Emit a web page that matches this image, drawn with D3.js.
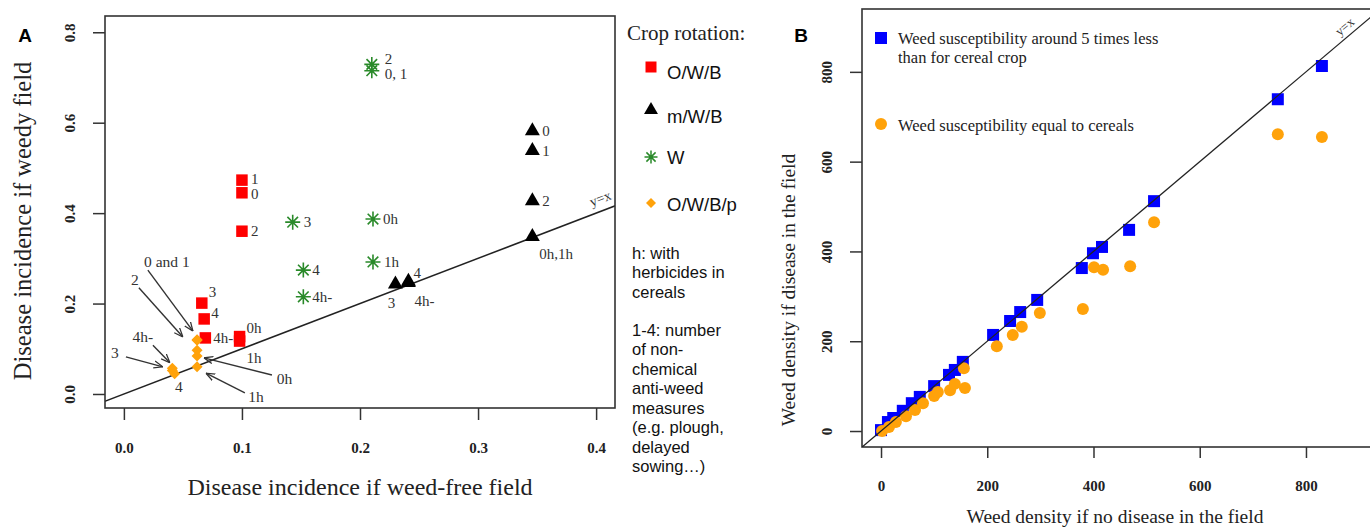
<!DOCTYPE html>
<html><head><meta charset="utf-8">
<script src="https://cdn.jsdelivr.net/npm/d3@7"></script>
<style>body{margin:0;background:#fff}svg{display:block}</style>
</head><body><svg id="c" width="1370" height="528"></svg>
<script>
// ================= DATA =================
// Panel A
const xTicksA = [0, 0.1, 0.2, 0.3, 0.4];
const yTicksA = [0, 0.2, 0.4, 0.6, 0.8];
const seriesOWB = [
  {x:0.100, y:0.473, label:"1"},
  {x:0.100, y:0.445, label:"0"},
  {x:0.100, y:0.360, label:"2"},
  {x:0.066, y:0.201, label:"3"},
  {x:0.068, y:0.166, label:"4"},
  {x:0.069, y:0.124, label:"4h-"},
  {x:0.098, y:0.127, label:"0h"},
  {x:0.098, y:0.117, label:"1h"}
];
const seriesMWB = [
  {x:0.346, y:0.582, label:"0"},
  {x:0.346, y:0.538, label:"1"},
  {x:0.346, y:0.427, label:"2"},
  {x:0.346, y:0.348, label:"0h,1h"},
  {x:0.230, y:0.243, label:"3"},
  {x:0.241, y:0.249, label:"4"},
  {x:0.241, y:0.246, label:"4h-"}
];
const seriesW = [
  {x:0.210, y:0.729, label:"2"},
  {x:0.210, y:0.715, label:"0, 1"},
  {x:0.143, y:0.380, label:"3"},
  {x:0.211, y:0.387, label:"0h"},
  {x:0.211, y:0.292, label:"1h"},
  {x:0.152, y:0.274, label:"4"},
  {x:0.152, y:0.215, label:"4h-"}
];
const seriesOWBp = [
  {x:0.062, y:0.120, label:"0"},
  {x:0.062, y:0.119, label:"1"},
  {x:0.062, y:0.097, label:"2"},
  {x:0.062, y:0.084, label:"0h"},
  {x:0.062, y:0.060, label:"1h"},
  {x:0.041, y:0.057, label:"4h-"},
  {x:0.041, y:0.052, label:"3"},
  {x:0.043, y:0.045, label:"4"}
];
// arrow annotations for the O/W/B/p cluster (data units)
const arrowNotes = [
  {text:"0 and 1", tx:0.0364, ty:0.292, x1:0.0203, y1:0.274, x2:0.0585, y2:0.139},
  {text:"2",       tx:0.0093, ty:0.252, x1:0.0127, y1:0.235, x2:0.050,  y2:0.126},
  {text:"4h-",     tx:0.016,  ty:0.126, x1:0.0246, y1:0.108, x2:0.039,  y2:0.069},
  {text:"3",       tx:-0.0076,ty:0.091, x1:0.0017, y1:0.082, x2:0.033,  y2:0.060},
  {text:"4",       tx:0.0466, ty:0.0155},
  {text:"0h",      tx:0.136,  ty:0.035, x1:0.1254, y1:0.042, x2:0.0678, y2:0.080},
  {text:"1h",      tx:0.112,  ty:-0.0066,x1:0.1025,y1:0.0022,x2:0.0695, y2:0.046}
];
const legendA = ["O/W/B", "m/W/B", "W", "O/W/B/p"];
const notesA = ["h: with", "herbicides in", "cereals", "", "1-4: number", "of non-", "chemical", "anti-weed", "measures", "(e.g. plough,", "delayed", "sowing\u2026)"];

// Panel B
const xTicksB = [0, 200, 400, 600, 800];
const yTicksB = [0, 200, 400, 600, 800];
const blueX = [0, 13, 23, 41, 58, 73, 100, 128, 139, 154, 211, 243, 262, 294, 378, 399, 416, 467, 514, 747, 830];
const blueY = [2, 20, 29, 45, 62, 76, 100, 125, 136, 154, 214, 245, 265, 292, 363, 396, 410, 448, 512, 739, 813];
const orangeX = [2, 15, 28, 47, 64, 79, 100, 107, 130, 139, 156, 158, 218, 248, 265, 299, 380, 401, 418, 469, 514, 747, 830];
const orangeY = [0, 9, 20, 33, 47, 62, 78, 87, 91, 105, 140, 96, 189, 214, 232, 263, 272, 365, 359, 367, 465, 661, 655];
const legendB = [["Weed susceptibility around 5 times less", "than for cereal crop"], ["Weed susceptibility equal to cereals"]];

// ================= STYLE / LAYOUT =================
const SERIF = "'Liberation Serif','Times New Roman',serif";
const SANS = "'Liberation Sans',Arial,sans-serif";
const C_RED = "#ff0000", C_BLACK = "#000", C_GREEN = "#2a8a2a", C_ORANGE = "#ffa20a", C_BLUE = "#0000ff";
const TXT = "#333";

// label offsets [dx, dy, anchor] per series/label
const offOWB = {"1":[9,-1],"0":[9,1],"2":[9,0],"3":[7,-11],"4":[7,-6],"4h-":[8,0],"0h":[7,-9],"1h":[7,17]};
const offMWB = {"0":[10,0],"1":[10,0],"2":[10,0],"0h,1h":[7,17],"3":[-4,19,"middle"],"4":[5,-9],"4h-":[6,18]};
const offW = {"2":[13,-6],"0, 1":[13,3],"3":[11,0],"0h":[10,0],"1h":[11,0],"4":[9,0],"4h-":[9,0]};

const svg = d3.select("#c");
svg.append("rect").attr("width",1370).attr("height",528).attr("fill","#fff");
const defs = svg.append("defs");

// marker path helpers
const sq = s => d3.symbol(d3.symbolSquare, s*s)();
const tri = s => d3.symbol(d3.symbolTriangle, s*s*0.43)();
const dia = s => { const h=s/2; return `M0,${-h}L${h},0L0,${h}L${-h},0Z`; };
const ast = s => { const r=s/2, d=r*0.7071; return `M${-r},0L${r},0M0,${-r}L0,${r}M${-d},${-d}L${d},${d}M${-d},${d}L${d},${-d}`; };

// ================= PANEL A =================
const xA = d3.scaleLinear().domain([-0.016, 0.416]).range([105, 615]);
const yA = d3.scaleLinear().domain([-0.031, 0.836]).range([408, 16]);
const gA = svg.append("g");

defs.append("clipPath").attr("id","clipA").append("rect")
  .attr("x",105).attr("y",16).attr("width",510).attr("height",392);

// y=x line
gA.append("line").attr("clip-path","url(#clipA)")
  .attr("x1",xA(-0.05)).attr("y1",yA(-0.05)).attr("x2",xA(0.45)).attr("y2",yA(0.45))
  .attr("stroke","#222").attr("stroke-width",1.5);
const angA = Math.atan2(yA(0.4)-yA(0), xA(0.4)-xA(0))*180/Math.PI;
gA.append("text").attr("transform",`translate(${xA(0.405)},${yA(0.405)-8}) rotate(${angA})`)
  .attr("text-anchor","middle").attr("font-family",SERIF).attr("font-size",14).attr("fill",TXT).text("y=x");

// axes
const axA = d3.axisBottom(xA).tickValues(xTicksA).tickSize(12).tickPadding(22).tickFormat(d3.format(".1f"));
const gx = gA.append("g").attr("transform","translate(0,408)").call(axA);
const ayA = d3.axisLeft(yA).tickValues(yTicksA).tickSize(12).tickFormat(d3.format(".1f"));
const gy = gA.append("g").attr("transform","translate(105,0)").call(ayA);
[gx, gy].forEach(g => {
  g.select(".domain").remove();
  g.selectAll(".tick line").attr("stroke","#333").attr("stroke-width",1.5);
  g.selectAll("text").attr("font-family",SERIF).attr("font-size",15).attr("font-weight","bold").attr("fill","#222");
});
gy.selectAll(".tick text").attr("x",null).attr("dy","0.35em").attr("text-anchor","middle")
  .attr("transform","translate(-35,0) rotate(-90)");

// box
gA.append("rect").attr("x",105).attr("y",16).attr("width",510).attr("height",392)
  .attr("fill","none").attr("stroke","#333").attr("stroke-width",1.6);

// axis titles
gA.append("text").attr("x",360).attr("y",487).attr("dy","0.35em").attr("text-anchor","middle")
  .attr("font-family",SERIF).attr("font-size",24).attr("fill","#222").text("Disease incidence if weed-free field");
gA.append("text").attr("transform","translate(22,221) rotate(-90)").attr("dy","0.35em").attr("text-anchor","middle")
  .attr("font-family",SERIF).attr("font-size",24.5).attr("fill","#222").text("Disease incidence if weedy field");
svg.append("text").attr("x",25).attr("y",35).attr("dy","0.35em").attr("text-anchor","middle")
  .attr("font-family","'Liberation Sans',Arial,sans-serif").attr("font-weight","bold").attr("font-size",19).text("A");

// points
function drawSeries(data, pathFn, size, fill, stroke, offs) {
  const g = gA.append("g");
  g.selectAll("path").data(data).join("path")
    .attr("transform", d => `translate(${xA(d.x)},${yA(d.y)})`)
    .attr("d", pathFn(size))
    .attr("fill", fill || "none")
    .attr("stroke", stroke || "none")
    .attr("stroke-width", stroke ? 1.6 : 0);
  if (offs) {
    g.selectAll("text").data(data).join("text")
      .attr("x", d => xA(d.x) + offs[d.label][0])
      .attr("y", d => yA(d.y) + offs[d.label][1])
      .attr("dy","0.35em")
      .attr("text-anchor", d => offs[d.label][2] || "start")
      .attr("font-family",SERIF).attr("font-size",15).attr("fill",TXT)
      .text(d => d.label);
  }
}
drawSeries(seriesOWB, sq, 11.5, C_RED, null, offOWB);
drawSeries(seriesW, ast, 15, null, C_GREEN, offW);
drawSeries(seriesOWBp, dia, 11, C_ORANGE, null, null);
drawSeries(seriesMWB, tri, 15, C_BLACK, null, offMWB);

// arrow annotations
defs.append("marker").attr("id","arr").attr("viewBox","0 0 10 10").attr("refX",10).attr("refY",5)
  .attr("markerWidth",9).attr("markerHeight",9).attr("markerUnits","userSpaceOnUse").attr("orient","auto")
  .append("path").attr("d","M0,1 L10,5 L0,9").attr("fill","none").attr("stroke","#333").attr("stroke-width",1.4);
const gN = gA.append("g");
gN.selectAll("line").data(arrowNotes.filter(d => d.x1 !== undefined)).join("line")
  .attr("x1", d => xA(d.x1)).attr("y1", d => yA(d.y1))
  .attr("x2", d => xA(d.x2)).attr("y2", d => yA(d.y2))
  .attr("stroke","#333").attr("stroke-width",1.4).attr("marker-end","url(#arr)");
gN.selectAll("text").data(arrowNotes).join("text")
  .attr("x", d => xA(d.tx)).attr("y", d => yA(d.ty)).attr("dy","0.35em").attr("text-anchor","middle")
  .attr("font-family",SERIF).attr("font-size",15.5).attr("fill",TXT).text(d => d.text);

// legend A
const gL = svg.append("g");
gL.append("text").attr("x",627).attr("y",33).attr("dy","0.35em").attr("font-family",SERIF)
  .attr("font-size",21).attr("fill","#222").text("Crop rotation:");
const legMarks = [
  {p: sq(11), fill:C_RED, stroke:null, my:67, ty:73},
  {p: tri(14), fill:C_BLACK, stroke:null, my:110, ty:117},
  {p: ast(13), fill:"none", stroke:C_GREEN, my:157, ty:158},
  {p: dia(10), fill:C_ORANGE, stroke:null, my:203, ty:205}
];
legendA.forEach((t,i) => {
  const m = legMarks[i];
  gL.append("path").attr("transform",`translate(651,${m.my})`).attr("d",m.p)
    .attr("fill",m.fill).attr("stroke",m.stroke||"none").attr("stroke-width",1.5);
  gL.append("text").attr("x",667).attr("y",m.ty).attr("dy","0.35em").attr("font-family",SANS)
    .attr("font-size",18.5).attr("fill","#111").text(t);
});
notesA.forEach((t,i) => {
  const y = i < 3 ? 253 + i*19.5 : 330 + (i-4)*19.5;
  if (t) gL.append("text").attr("x",632).attr("y",y).attr("dy","0.35em").attr("font-family",SANS)
    .attr("font-size",16.5).attr("fill","#111").text(t);
});

// ================= PANEL B =================
const xB = d3.scaleLinear().domain([-35.8, 924.3]).range([862, 1372]);
const yB = d3.scaleLinear().domain([-35.6, 940]).range([447, 9]);
const gB = svg.append("g");
defs.append("clipPath").attr("id","clipB").append("rect")
  .attr("x",862).attr("y",9).attr("width",510).attr("height",438);

const axB = d3.axisBottom(xB).tickValues(xTicksB).tickSize(11).tickPadding(22);
const gxb = gB.append("g").attr("transform","translate(0,447)").call(axB);
const ayB = d3.axisLeft(yB).tickValues(yTicksB).tickSize(12);
const gyb = gB.append("g").attr("transform","translate(862,0)").call(ayB);
[gxb, gyb].forEach(g => {
  g.select(".domain").remove();
  g.selectAll(".tick line").attr("stroke","#333").attr("stroke-width",1.5);
  g.selectAll("text").attr("font-family",SERIF).attr("font-size",15).attr("font-weight","bold").attr("fill","#222");
});
gyb.selectAll(".tick text").attr("x",null).attr("dy","0.35em").attr("text-anchor","middle")
  .attr("transform","translate(-35,0) rotate(-90)");

// box (right side off-canvas)
gB.append("rect").attr("x",862).attr("y",9).attr("width",520).attr("height",438)
  .attr("fill","none").attr("stroke","#333").attr("stroke-width",1.6);

// points
const gP = gB.append("g").attr("clip-path","url(#clipB)");
gP.selectAll("path.b").data(d3.zip(blueX, blueY)).join("path").attr("class","b")
  .attr("transform", d => `translate(${xB(d[0])},${yB(d[1])})`).attr("d", sq(12)).attr("fill",C_BLUE);
gP.selectAll("circle").data(d3.zip(orangeX, orangeY)).join("circle")
  .attr("cx", d => xB(d[0])).attr("cy", d => yB(d[1])).attr("r",6).attr("fill",C_ORANGE);
gP.append("line").attr("x1",xB(-50)).attr("y1",yB(-50)).attr("x2",xB(1000)).attr("y2",yB(1000))
  .attr("stroke","#222").attr("stroke-width",1.3);
const angB = Math.atan2(yB(800)-yB(0), xB(800)-xB(0))*180/Math.PI;
gB.append("text").attr("transform",`translate(${xB(878)},${yB(878)-7}) rotate(${angB})`)
  .attr("text-anchor","middle").attr("font-family",SERIF).attr("font-size",13).attr("fill",TXT).text("y=x");

// titles
gB.append("text").attr("x",1115).attr("y",516).attr("dy","0.35em").attr("text-anchor","middle")
  .attr("font-family",SERIF).attr("font-size",19.5).attr("fill","#222").text("Weed density if no disease in the field");
gB.append("text").attr("transform","translate(788,290) rotate(-90)").attr("dy","0.35em").attr("text-anchor","middle")
  .attr("font-family",SERIF).attr("font-size",19.5).attr("fill","#222").text("Weed density if disease in the field");
svg.append("text").attr("x",801).attr("y",35).attr("dy","0.35em").attr("text-anchor","middle")
  .attr("font-family","'Liberation Sans',Arial,sans-serif").attr("font-weight","bold").attr("font-size",19).text("B");

// legend B
const gLB = svg.append("g");
gLB.append("path").attr("transform","translate(881,38)").attr("d",sq(12)).attr("fill",C_BLUE);
gLB.append("circle").attr("cx",881).attr("cy",124).attr("r",6).attr("fill",C_ORANGE);
const legBY = [[38,57],[125]];
legendB.forEach((lines,i) => lines.forEach((t,j) => {
  gLB.append("text").attr("x",898).attr("y",legBY[i][j]).attr("dy","0.35em").attr("font-family",SERIF)
    .attr("font-size",16.5).attr("fill","#222").text(t);
}));
</script></body></html>
